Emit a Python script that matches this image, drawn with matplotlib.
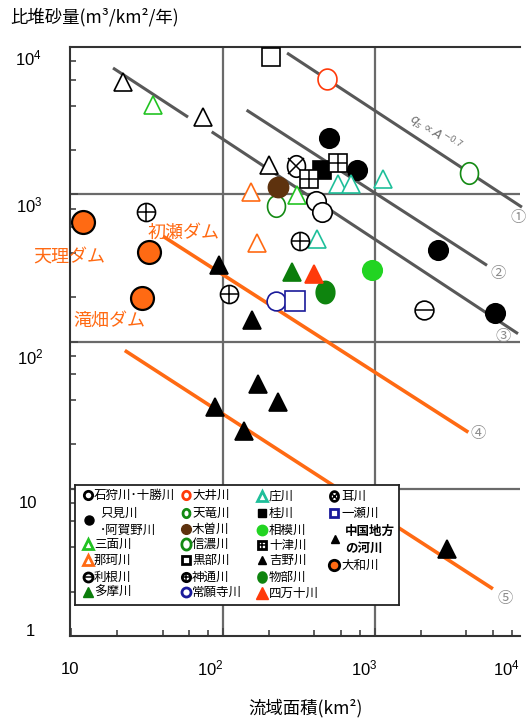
import numpy as np
import matplotlib
matplotlib.use('Agg')
import matplotlib.pyplot as plt
from matplotlib.path import Path
from matplotlib.ticker import LogLocator, NullFormatter

plt.rcParams['font.family'] = ['Noto Sans CJK JP', 'DejaVu Sans']

# 流域面積 (km2) と 比堆砂量 (m3/km2/年)
ishikari_x = [409, 446]
ishikari_y = [896, 758]
tadami_x = [500, 758, 2606, 6152]
tadami_y = [2393, 1456, 416, 156]
miomote_x = [34.6, 308]
miomote_y = [4027, 984]
naka_x = [153, 168]
naka_y = [1028, 469]
tone_x = [2099]
tone_y = [163]
tama_x = [286]
tama_y = [296]
oi_x = [481]
oi_y = [6026]
tenryu_x = [4169]
tenryu_y = [1384]
kiso_x = [231]
kiso_y = [1122]
shinano_x = [222]
shinano_y = [828]
kurobe_x = [206]
kurobe_y = [8590]
jinzu_x = [31.0, 321, 109]
jinzu_y = [758, 479, 211]
joganji_x = [222]
joganji_y = [187]
sho_x = [568, 700, 1134, 417]
sho_y = [1169, 1169, 1265, 500]
katsura_x = [448]
katsura_y = [1456]
sagami_x = [951]
sagami_y = [304]
totsu_x = [573, 370]
totsu_y = [1618, 1279]
yoshino_x = [94.6, 155]
yoshino_y = [329, 139]
monobe_x = [469]
monobe_y = [217]
shimanto_x = [397]
shimanto_y = [289]
mimi_x = [301]
mimi_y = [1550]
ichinose_x = [298]
ichinose_y = [188]
chugoku_x = [88.5, 171, 231, 137, 2992]
chugoku_y = [35.7, 51.5, 38.6, 24.8, 3.89]
yamato_x = [12.05, 32.7, 29.2]
yamato_y = [649, 405, 198]
others_x = [22.0, 73.8, 201]
others_y = [5780, 3342, 1575]

# qs ∝ A^-0.7 の目安線 (端点)
guide_lines = {
    '①': [(264, 9270), (9100, 817)],
    '②': [(143, 5460), (3727, 329)],
    '③a': [(18.9, 58.9), (7200, 3342)],
    '③b': [(84.3, 8730), (2655, 113)],
    '④': [(40.5, 4113), (517, 24.2)],
    '⑤': [(22.6, 5970), (86.9, 2.09)],
}
guide_labels = [('①', 8730, 698), ('②', 6440, 290), ('③', 6950, 108),
                ('④', 4760, 23.6), ('⑤', 7160, 1.79)]

ORANGE = '#ff6a13'

t = np.linspace(0, 2 * np.pi, 61)
ELL = Path(np.c_[np.cos(t), 1.2 * np.sin(t)])
ELL_S = Path(np.c_[np.cos(t), 1.1 * np.sin(t)])

styles = {
    '石狩川・十勝川': dict(marker='o', face='white', edge='black'),
    '只見川・阿賀野川': dict(marker='o', face='black', edge='black'),
    '三面川': dict(marker='^', face='white', edge='#22c322'),
    '那珂川': dict(marker='^', face='white', edge=ORANGE),
    '利根川': dict(marker='o', face='white', edge='black', inner='_'),
    '多摩川': dict(marker='^', face='#0b7d0b', edge='#0b7d0b'),
    '大井川': dict(marker=ELL_S, face='white', edge='#ff3a0a'),
    '天竜川': dict(marker=ELL, face='white', edge='#138a13'),
    '木曽川': dict(marker='o', face='#5e320e', edge='#5e320e'),
    '信濃川': dict(marker=ELL, face='white', edge='#138a13'),
    '黒部川': dict(marker='s', face='white', edge='black'),
    '神通川': dict(marker='o', face='white', edge='black', inner='+'),
    '常願寺川': dict(marker='o', face='white', edge='#1a1a9a'),
    '庄川': dict(marker='^', face='white', edge='#1fbf9a'),
    '桂川': dict(marker='s', face='black', edge='black'),
    '相模川': dict(marker='o', face='#22d422', edge='#22d422'),
    '十津川': dict(marker='s', face='white', edge='black', inner='+'),
    '吉野川': dict(marker='^', face='black', edge='black'),
    '物部川': dict(marker=ELL, face='#0e840e', edge='#0e840e'),
    '四万十川': dict(marker='^', face='#ff3a0a', edge='#ff3a0a'),
    '耳川': dict(marker=ELL, face='white', edge='black', inner='x'),
    '一瀬川': dict(marker='s', face='white', edge='#1a1a9a'),
    '中国地方の河川': dict(marker='^', face='black', edge='black'),
    '大和川': dict(marker='o', face=ORANGE, edge='black'),
    'その他': dict(marker='^', face='white', edge='black'),
}

# (名前, x, y, マーカーサイズ) 描画順
series = [
    ('その他', others_x, others_y, 13.5),
    ('只見川・阿賀野川', tadami_x, tadami_y, 14),
    ('桂川', katsura_x, katsura_y, 12.5),
    ('耳川', mimi_x, mimi_y, 15.5),
    ('十津川', totsu_x, totsu_y, 13),
    ('黒部川', kurobe_x, kurobe_y, 13.5),
    ('大井川', oi_x, oi_y, 15),
    ('信濃川', shinano_x, shinano_y, 15.5),
    ('木曽川', kiso_x, kiso_y, 14.5),
    ('三面川', miomote_x, miomote_y, 13.5),
    ('那珂川', naka_x, naka_y, 13),
    ('庄川', sho_x, sho_y, 13.5),
    ('石狩川・十勝川', ishikari_x, ishikari_y, 14),
    ('天竜川', tenryu_x, tenryu_y, 15.5),
    ('利根川', tone_x, tone_y, 13.5),
    ('神通川', jinzu_x, jinzu_y, 13),
    ('常願寺川', joganji_x, joganji_y, 13.5),
    ('一瀬川', ichinose_x, ichinose_y, 14),
    ('相模川', sagami_x, sagami_y, 14),
    ('物部川', monobe_x, monobe_y, 16),
    ('多摩川', tama_x, tama_y, 13.5),
    ('四万十川', shimanto_x, shimanto_y, 13.5),
    ('吉野川', yoshino_x, yoshino_y, 13.5),
    ('中国地方の河川', chugoku_x, chugoku_y, 13.5),
    ('大和川', yamato_x, yamato_y, 16.5),
]


def put(axis, xs, ys, name, ms, mew=1.2, z=3):
    st = styles[name]
    axis.plot(xs, ys, ls='none', marker=st['marker'], ms=ms, mfc=st['face'],
              mec=st['edge'], mew=mew, zorder=z, clip_on=False)
    if 'inner' in st:
        k = 0.72 if st['inner'] == 'x' else 1.0
        axis.plot(xs, ys, ls='none', marker=st['inner'], ms=ms * k,
                  mec=st['edge'], mew=min(mew, 1.1), zorder=z, clip_on=False)


W, H = 528, 722
fig = plt.figure(figsize=(W / 100, H / 100), dpi=100)
ax = fig.add_axes([70 / W, 1 - 636 / H, 450 / W, 589 / H])
ax.set_xscale('log')
ax.set_yscale('log')
ax.set_xlim(9.85, 9000)
ax.set_ylim(1, 1e4)

for s in ['left', 'bottom', 'top']:
    ax.spines[s].set_color('#333333')
    ax.spines[s].set_linewidth(1.5)
ax.spines['right'].set_visible(False)

ax.xaxis.set_major_locator(LogLocator(base=10, numticks=10))
ax.yaxis.set_major_locator(LogLocator(base=10, numticks=10))
ax.xaxis.set_minor_locator(LogLocator(base=10, subs=(2, 4, 6, 8), numticks=10))
ax.yaxis.set_minor_locator(LogLocator(base=10, subs=(2, 4, 6, 8), numticks=10))
ax.xaxis.set_minor_formatter(NullFormatter())
ax.yaxis.set_minor_formatter(NullFormatter())
ax.tick_params(which='both', direction='in', top=False, right=False,
               labelbottom=False, labelleft=False, color='#444444', width=1.2)
ax.tick_params(which='major', length=6)
ax.tick_params(which='minor', length=4)

for v in [100, 1000]:
    ax.axvline(v, color='#6a6a6a', lw=1.6, zorder=1)
for v in [10, 100, 1000]:
    ax.axhline(v, color='#6a6a6a', lw=1.6, zorder=1)

# 目安線
for key, (xs, ys) in guide_lines.items():
    col = ORANGE if key in ('④', '⑤') else '#585858'
    lw = 2.6 if col == ORANGE else 2.2
    ax.plot(xs, ys, color=col, lw=lw, zorder=2, clip_on=False,
            solid_capstyle='butt')
for lab, x, y in guide_labels:
    ax.text(x, y, lab, color='#8c8c8c', fontsize=11, ha='center', va='center',
            clip_on=False)
ax.text(2480, 2600, r'$q_s \propto A^{-0.7}$', color='#707070', fontsize=9,
        rotation=-33, ha='center', va='center')

for name, xs, ys, ms in series:
    mew = 1.6 if name == '大和川' else 1.2
    put(ax, xs, ys, name, ms, mew=mew)

# ダム名
ax.text(5.62, 373, '天理ダム', color=ORANGE, fontsize=13, va='center', ha='left')
ax.text(32.1, 551, '初瀬ダム', color=ORANGE, fontsize=13, va='center', ha='left')
ax.text(10.3, 137, '滝畑ダム', color=ORANGE, fontsize=13, va='center', ha='left')

# 目盛ラベル
tick_font = dict(family='Liberation Sans', fontsize=12, ha='center', va='center')
for lab, px, py in [('1', 30.5, 632), ('10', 27.5, 503),
                    (r'$\mathregular{10^2}$', 30, 357),
                    (r'$\mathregular{10^3}$', 29.5, 205),
                    (r'$\mathregular{10^4}$', 28, 58),
                    ('10', 70, 670), (r'$\mathregular{10^2}$', 210, 668),
                    (r'$\mathregular{10^3}$', 364.5, 668),
                    (r'$\mathregular{10^4}$', 506.5, 668)]:
    fig.text(px / W, 1 - py / H, lab, **tick_font)

fig.text(10 / W, 1 - 17 / H, '比堆砂量(m³/km²/年)', fontsize=12.5, va='center')
fig.text(306 / W, 1 - 708 / H, '流域面積(km²)', fontsize=12.5, va='center',
         ha='center')

# 凡例
lax = fig.add_axes([75 / W, 1 - 605 / H, 324 / W, 120 / H])
lax.set_xlim(75, 399)
lax.set_ylim(605, 485)
lax.set_xticks([])
lax.set_yticks([])
for s in lax.spines.values():
    s.set_linewidth(1.3)
    s.set_color('#222222')

legend_rows = [
    ('石狩川・十勝川', 88, 495, [(94, 495, '石狩川･十勝川')], 6),
    ('只見川・阿賀野川', 89, 520, [(100, 513, '只見川'), (100, 530, '･阿賀野川')], 6.5),
    ('三面川', 88, 544, [(94, 544, '三面川')], 7),
    ('那珂川', 88, 560, [(94, 560, '那珂川')], 6.5),
    ('利根川', 88, 577, [(94, 577, '利根川')], 6.5),
    ('多摩川', 88, 592, [(94, 592, '多摩川')], 7),
    ('大井川', 186, 495, [(192, 495, '大井川')], 6),
    ('天竜川', 186, 513, [(192, 513, '天竜川')], 6),
    ('木曽川', 186, 529, [(192, 529, '木曽川')], 7),
    ('信濃川', 186, 544, [(192, 544, '信濃川')], 8),
    ('黒部川', 186, 560, [(192, 560, '黒部川')], 5.5),
    ('神通川', 186, 577, [(192, 577, '神通川')], 6),
    ('常願寺川', 186, 592, [(192, 592, '常願寺川')], 6.5),
    ('庄川', 262, 496, [(269, 496, '庄川')], 7),
    ('桂川', 262, 513, [(269, 513, '桂川')], 6),
    ('相模川', 262, 530, [(269, 530, '相模川')], 7.5),
    ('十津川', 262, 545, [(269, 545, '十津川')], 6),
    ('吉野川', 262, 560, [(269, 560, '吉野川')], 6),
    ('物部川', 262, 577, [(269, 577, '物部川')], 8),
    ('四万十川', 262, 593, [(269, 593, '四万十川')], 8),
    ('耳川', 334, 496, [(341, 496, '耳川')], 7),
    ('一瀬川', 334, 513, [(341, 513, '一瀬川')], 6),
    ('中国地方の河川', 335, 539, [(345, 531, '中国地方'), (345, 548, 'の河川')], 5.5),
    ('大和川', 334, 565, [(341, 565, '大和川')], 7.5),
]
for name, mx, my, texts, ms in legend_rows:
    st = styles[name]
    open_mark = st['face'] == 'white'
    put(lax, [mx], [my], name, ms, mew=2.0 if open_mark or name == '大和川' else 1.0)
    bold = name == '中国地方の河川'
    for tx, ty, txt in texts:
        lax.text(tx, ty, txt, fontsize=9, va='center', ha='left',
                 fontweight='bold' if bold else 'normal')

fig.savefig('out.png', dpi=100, facecolor='white')
